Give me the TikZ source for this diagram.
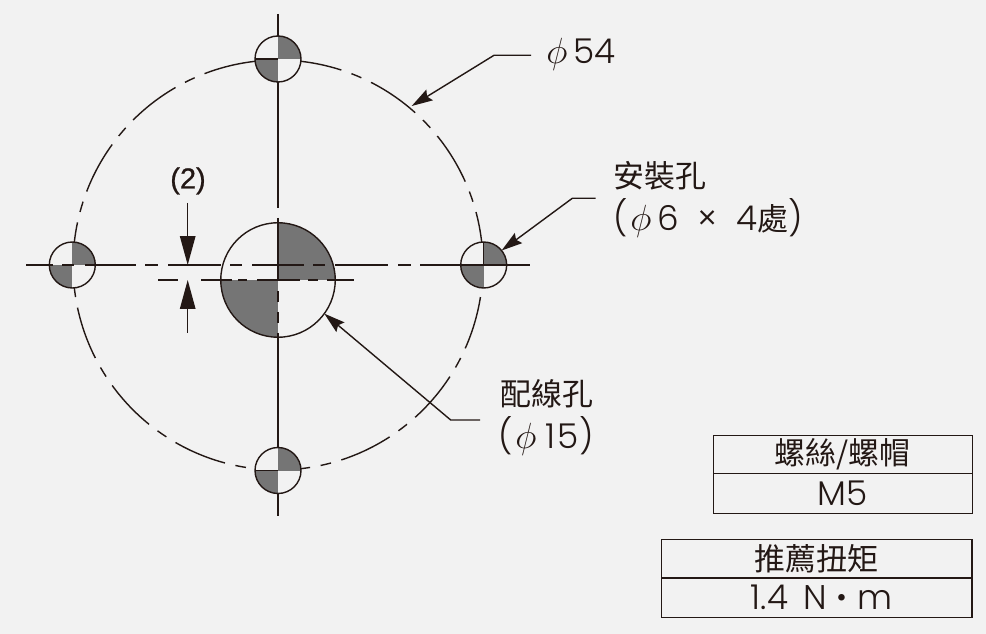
\documentclass[tikz,border=0pt]{standalone}
\usepackage{fontspec}
\usepackage{xcolor}
\setmainfont{Poppins Light}
\newfontfamily\cjk{Noto Sans CJK TC}
\newfontfamily\dimfont[FakeBold=0.8]{Liberation Sans}
\definecolor{paper}{HTML}{F2F2F2}
\definecolor{ink}{HTML}{231815}
\definecolor{holegray}{HTML}{757575}
\usetikzlibrary{arrows.meta}
\newcommand{\hanzi}[1]{{\cjk\fontsize{17.6pt}{20pt}\selectfont #1}}

\begin{document}
\begin{tikzpicture}[x=0.02cm,y=-0.02cm,
	stroke/.style={draw=ink,line width=0.8pt},
	hole/.style={circle,stroke,fill=paper,inner sep=0pt,outer sep=0pt,minimum size=#1,
		path picture={
			\fill[holegray] (path picture bounding box.center) rectangle (path picture bounding box.north east);
			\fill[holegray] (path picture bounding box.center) rectangle (path picture bounding box.south west);
		}},
	leader/.style={stroke,-{Stealth[length=0.42cm,width=0.25cm,inset=0.06cm]}},
	dimline/.style={stroke,-{Triangle[length=0.58cm,width=0.31cm]}},
	label/.style={ink,font=\fontsize{19.5pt}{22pt}\selectfont,anchor=west,inner sep=0pt},
	cell/.style={rectangle,stroke,text=ink,font=\fontsize{19.5pt}{22pt}\selectfont,inner sep=0pt,outer sep=0pt}]
	\useasboundingbox (0,0) rectangle (986,634);
	\fill[paper] (0,0) rectangle (986,634);
	% Bolt circle
	\coordinate (centre) at (278,265);
	\foreach \a in {0,24,...,336}
	{
		\draw[stroke] ([shift={(\a+15:4.1cm)}]centre) arc (\a+15:\a:4.1cm);
		\draw[stroke] ([shift={(\a-3:4.1cm)}]centre) arc (\a-3:\a-6:4.1cm);
	}
	% Holes
	\node[hole=0.92cm] (holeT) at (278,59) {};
	\node[hole=0.92cm] (holeL) at (72.3,265) {};
	\node[hole=0.92cm] (holeR) at (483.7,265) {};
	\node[hole=0.92cm] (holeB) at (278,470.5) {};
	\node[hole=2.29cm] (wirehole) at (278,280) {};
	% Centre lines
	\foreach \a/\b in {26/53,62/74,85/136,145/158,168/221,230/242,252/304,313/325,335/388,398/411,420/530}
	\draw[stroke] (\a,265) -- (\b,265);
	\foreach \a/\b in {158/178,201/232,238/247,257/300,308/318,327/354}
	\draw[stroke] (\a,280) -- (\b,280);
	\foreach \a/\b in {14/36,82/208,218/281,291/302,312/323,333/447,493/516}
	\draw[stroke] (278,\a) -- (278,\b);
	\draw[stroke] (255,59) -- (278,59);
	\draw[stroke] (255,470.5) -- (278,470.5);
	\draw[stroke] (483.7,242) -- (483.7,265);
	% Dimension (2)
	\node[ink,font=\dimfont\fontsize{16.5pt}{18pt}\selectfont,inner sep=0pt] (dimtext) at (188,181) {(2)};
	\coordinate (dimA) at (187.7,203);
	\coordinate (dimB) at (187.7,265);
	\coordinate (dimC) at (187.7,333);
	\coordinate (dimD) at (187.7,280);
	\draw[dimline] (dimA) -- (dimB);
	\draw[dimline] (dimC) -- (dimD);
	% Labels and leaders
	\node[label] (pcd) at (546,54) {$\phi$\,54};
	\node[label] (mount) at (613,176) {\hanzi{安裝孔}};
	\node[label] (mountsize) at (613,218) {(\hspace{0.05cm}$\phi$\,6\; ×\; 4\hanzi{處})};
	\node[label] (wire) at (500,394) {\hanzi{配線孔}};
	\node[label] (wiresize) at (498,436) {(\hspace{0.05cm}$\phi$\;1\hspace{0.04cm}5)};
	\coordinate (pcdfree) at (531,55.3);
	\coordinate (pcdbend) at (494,55.3);
	\coordinate (pcdtip) at (411.7,106);
	\draw[leader] (pcdfree) -- (pcdbend) -- (pcdtip);
	\coordinate (mountfree) at (595.7,198.3);
	\coordinate (mountbend) at (572.3,198.3);
	\draw[leader] (mountfree) -- (mountbend) -- (holeR.39);
	\coordinate (wirefree) at (480,420);
	\coordinate (wirebend) at (450.7,420);
	\draw[leader] (wirefree) -- (wirebend) -- (wirehole.-36);
	% Tables
	\node[cell,minimum width=5.18cm,minimum height=0.768cm] (screwhead) at (842.8,454.5) {\hanzi{螺絲/螺帽}};
	\node[cell,minimum width=5.18cm,minimum height=0.792cm] (screwsize) at (842.8,493.5) {M5};
	\node[cell,minimum width=6.21cm,minimum height=0.774cm] (torquehead) at (816.8,558.6) {\hanzi{推薦扭矩}};
	\node[cell,minimum width=6.21cm,minimum height=0.786cm] (torquevalue) at (816.8,597.6) {\hspace*{0.2cm}1.4\, N\smash{\hanzi{・}}m};
\end{tikzpicture}
\end{document}
